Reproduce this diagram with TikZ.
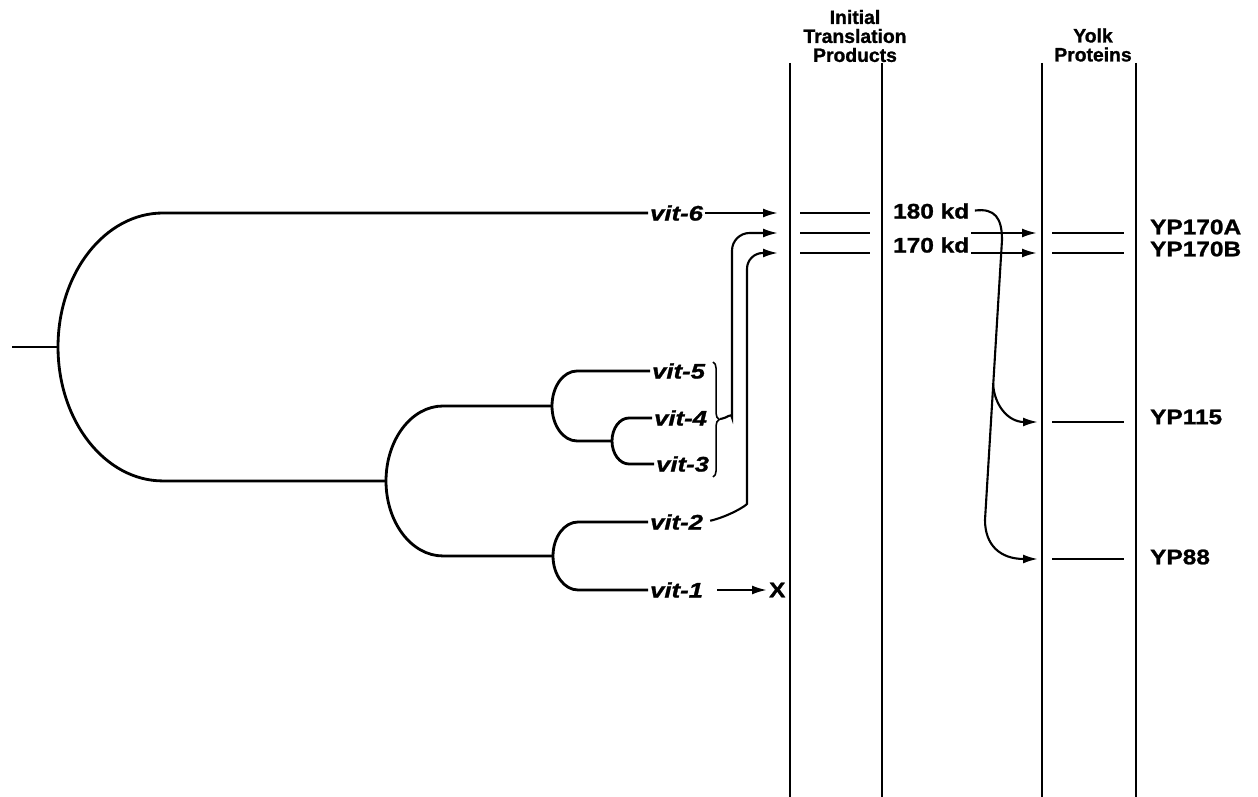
\documentclass[tikz,border=0pt]{standalone}
\usepackage{fontspec}
\setmainfont{Liberation Sans}[BoldFeatures={FakeBold=1.2}]
\newfontfamily\lblfont{Liberation Sans}[FakeStretch=1.16, BoldFeatures={FakeBold=1.2}]
\newfontfamily\vitfont{Liberation Sans}[FakeStretch=1.22, BoldItalicFeatures={FakeBold=1.2}]
\usetikzlibrary{arrows.meta,decorations.pathreplacing}

\begin{document}
\begin{tikzpicture}[
  x=0.02cm, y=-0.02cm,
  >={Latex[length=3mm,width=1.8mm]},
  branch/.style={line width=1.6pt},
  lane/.style={line width=1.2pt},
  band/.style={line width=1.2pt},
  arr/.style={->, line width=1.2pt},
  vit/.style={font=\vitfont\fontsize{12}{12}\selectfont\bfseries\itshape, inner sep=1pt, anchor=west},
  lbl/.style={font=\lblfont\fontsize{12}{12}\selectfont\bfseries, inner sep=1pt, anchor=west},
  hdr/.style={font=\fontsize{11}{10.8}\selectfont\bfseries, align=center, inner sep=0pt},
]
\useasboundingbox (0,0) rectangle (1258,797);
% column headers and lanes
\node[hdr] (itp) at (855,36) {Initial\\Translation\\Products};
\node[hdr] (ypr) at (1093,45) {Yolk\\Proteins};
\foreach \x in {790,882,1042,1136}{\draw[lane] (\x,63) -- (\x,797);}
% bands
\foreach \y in {213,233,253}{\draw[band] (800,\y) -- (870,\y);}
\foreach \y in {233,253,422,559}{\draw[band] (1052,\y) -- (1124,\y);}
% gene labels
\node[vit] (v6) at (648,213) {vit-6};
\node[vit] (v5) at (650,371) {vit-5};
\node[vit] (v4) at (652,418) {vit-4};
\node[vit] (v3) at (654,464) {vit-3};
\node[vit] (v2) at (648,522) {vit-2};
\node[vit] (v1) at (648,590) {vit-1};
% tree
\coordinate (stub) at (12,347);
\coordinate (jR) at (58,347);
\coordinate (jP) at (386,481);
\coordinate (jA) at (552,406);
\coordinate (jB) at (612,441);
\coordinate (jC) at (553,556);
\draw[branch] (stub) -- (jR);
\draw[branch] (v6.west) -- (163,213) arc[start angle=90,end angle=270,x radius=2.1cm,y radius=2.68cm] -- (jP);
\draw[branch] (jA) -- (443,406) arc[start angle=90,end angle=270,x radius=1.14cm,y radius=1.5cm] -- (jC);
\draw[branch] (v5.west) -- (577,371) arc[start angle=90,end angle=270,x radius=0.5cm,y radius=0.7cm] -- (jB);
\draw[branch] (v4.west) -- (629,418) arc[start angle=90,end angle=270,x radius=0.34cm,y radius=0.46cm] -- (v3.west);
\draw[branch] (v2.west) -- (578,522) arc[start angle=90,end angle=270,x radius=0.5cm,y radius=0.68cm] -- (v1.west);
% arrows into the first lane
\coordinate (t1) at (778,213);
\coordinate (t2) at (778,233);
\coordinate (t3) at (778,253);
\coordinate (bt) at (713,362);
\coordinate (bb) at (713,477);
\coordinate (btip) at (720,419);
\draw[arr] (v6.east) -- (t1);
\draw[line width=0.9pt, decorate, decoration={brace, amplitude=3.5pt}] (bt) -- (bb);
\draw[arr, rounded corners=10pt] (btip) .. controls (728,418) and (732,412) .. (732,400) -- (732,233) -- (t2);
\draw[arr, shorten <=3pt, rounded corners=9pt] (v2.east) .. controls (730,516) and (747,505) .. (747,488) -- (747,253) -- (t3);
\node[lbl] (xm) at (767,590) {X};
\draw[arr, shorten <=7pt] (v1.east) -- (xm.west);
% products and processing
\node[lbl] (k180) at (891,211) {180 kd};
\node[lbl] (k170) at (891,245) {170 kd};
\coordinate (h1) at (1002,240);
\coordinate (split) at (993,383);
\coordinate (h2) at (985,520);
\coordinate (a170a) at (1037,233);
\coordinate (a170b) at (1037,253);
\coordinate (a115) at (1038,422);
\coordinate (a88) at (1038,559);
\draw[arr, shorten <=2pt] (k180.east) .. controls (995,208) and (1002,218) .. (h1) -- (h2) .. controls (985,545) and (1000,559) .. (a88);
\draw[arr] (split) .. controls (994,405) and (1008,422) .. (a115);
\draw[arr] (k170.east |- a170a) -- (a170a);
\draw[arr] (k170.east |- a170b) -- (a170b);
% yolk protein labels
\node[lbl] (y170a) at (1148,227) {YP170A};
\node[lbl] (y170b) at (1148,249) {YP170B};
\node[lbl] (y115) at (1148,417) {YP115};
\node[lbl] (y88) at (1148,557) {YP88};
\end{tikzpicture}
\end{document}
